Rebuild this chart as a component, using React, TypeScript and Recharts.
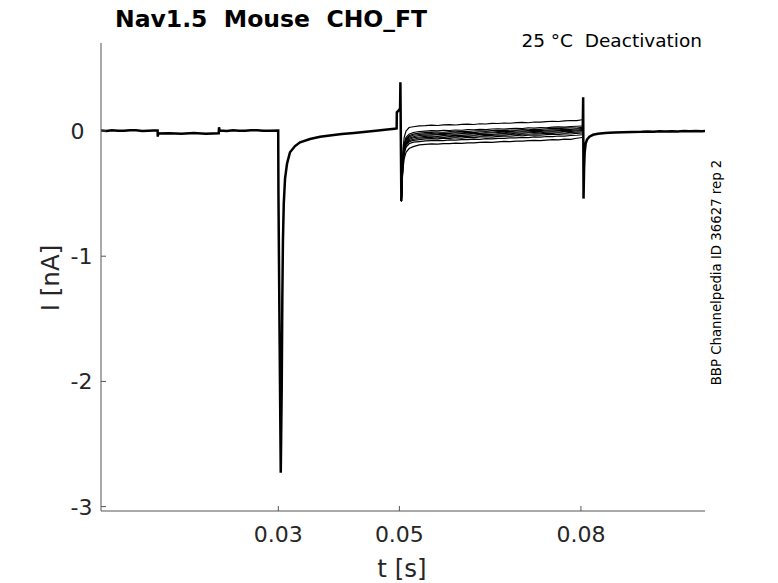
import { Line, LineChart, XAxis, YAxis } from 'recharts';

// Sweep-aligned recording, time in s, current in nA.
// Lead: shared part of all sweeps up to the 0.05 s spike.
const LEAD_T = [
  0.0007, 0.0016, 0.0025, 0.0035, 0.0045, 0.0055, 0.0065, 0.0075, 0.0085, 0.0094, 0.01005,
  0.01008, 0.01015, 0.012, 0.014, 0.016, 0.018, 0.02015, 0.0202, 0.0203, 0.0215, 0.0225,
  0.0235, 0.0245, 0.0255, 0.0265, 0.0275, 0.0285, 0.02998, 0.03002, 0.0302, 0.0304, 0.03056,
  0.03066, 0.03076, 0.0309, 0.03111, 0.03144, 0.03193, 0.03276, 0.03359, 0.03524, 0.0369,
  0.0385, 0.0405, 0.0425, 0.0445, 0.0465, 0.048, 0.0492, 0.04955, 0.04958, 0.0499, 0.05012,
  0.05017, 0.05025, 0.05033,
];
const LEAD_I = [
  0.004, 0.001, 0.007, 0.003, 0.002, 0.006, 0.006, 0.001, 0.003, 0.005, 0.005, -0.045, -0.02,
  -0.017, -0.022, -0.016, -0.021, -0.018, 0.03, 0.004, 0.001, 0.006, 0.003, 0.002, 0.006,
  0.006, 0.002, 0.003, 0.004, -0.5, -1.6, -2.73, -2.05, -1.35, -0.88, -0.58, -0.38, -0.26,
  -0.17, -0.12, -0.09, -0.064, -0.046, -0.036, -0.024, -0.016, -0.006, 0.004, 0.012, 0.018,
  0.02, 0.15, 0.165, 0.18, 0.39, -0.1, -0.56,
];

// Deactivation step: each sweep at its own level
const SWEEP_T = [
  0.05033, 0.05045, 0.0506, 0.0508, 0.0511, 0.0516, 0.0523, 0.0533, 0.0543, 0.0553, 0.0563,
  0.0573, 0.0583, 0.0593, 0.0603, 0.0613, 0.0623, 0.0633, 0.0643, 0.0653, 0.0663, 0.0673,
  0.0683, 0.0693, 0.0703, 0.0713, 0.0723, 0.0733, 0.0743, 0.0753, 0.0763, 0.0773, 0.0783,
  0.0793, 0.0802,
];
const SWEEP_1 = [
  -0.56, -0.3, -0.14, -0.05, 0.0, 0.028, 0.034, 0.041, 0.043, 0.047, 0.044, 0.049, 0.051,
  0.048, 0.053, 0.055, 0.052, 0.058, 0.056, 0.061, 0.06, 0.064, 0.062, 0.067, 0.069, 0.066,
  0.072, 0.071, 0.075, 0.078, 0.076, 0.081, 0.084, 0.083, 0.09,
];
const SWEEP_2 = [
  -0.56, -0.34, -0.19, -0.1, -0.05, -0.025, -0.012, -0.004, -0.001, 0.003, 0.001, 0.006,
  0.004, 0.008, 0.006, 0.011, 0.01, 0.013, 0.011, 0.016, 0.018, 0.015, 0.02, 0.022, 0.02,
  0.025, 0.024, 0.028, 0.026, 0.031, 0.033, 0.031, 0.036, 0.038, 0.04,
];
const SWEEP_3 = [
  -0.56, -0.36, -0.21, -0.12, -0.065, -0.038, -0.025, -0.017, -0.013, -0.011, -0.008, -0.01,
  -0.005, -0.007, -0.002, -0.004, 0.0, 0.002, -0.001, 0.004, 0.006, 0.003, 0.008, 0.007,
  0.012, 0.01, 0.015, 0.013, 0.018, 0.021, 0.019, 0.023, 0.025, 0.024, 0.03,
];
const SWEEP_4 = [
  -0.56, -0.37, -0.22, -0.13, -0.075, -0.048, -0.034, -0.028, -0.023, -0.02, -0.022, -0.017,
  -0.019, -0.014, -0.015, -0.011, -0.013, -0.008, -0.006, -0.009, -0.004, -0.002, -0.005,
  0.001, 0.0, 0.004, 0.006, 0.003, 0.008, 0.01, 0.009, 0.014, 0.012, 0.017, 0.02,
];
const SWEEP_5 = [
  -0.56, -0.38, -0.23, -0.14, -0.085, -0.058, -0.046, -0.036, -0.033, -0.031, -0.028, -0.029,
  -0.024, -0.026, -0.021, -0.022, -0.019, -0.02, -0.015, -0.016, -0.012, -0.014, -0.009,
  -0.01, -0.006, -0.007, -0.002, -0.004, 0.001, 0.0, 0.003, 0.005, 0.004, 0.008, 0.012,
];
const SWEEP_6 = [
  -0.56, -0.39, -0.24, -0.15, -0.095, -0.068, -0.054, -0.048, -0.043, -0.04, -0.042, -0.037,
  -0.038, -0.034, -0.035, -0.031, -0.032, -0.027, -0.025, -0.028, -0.023, -0.02, -0.022,
  -0.017, -0.018, -0.014, -0.012, -0.014, -0.009, -0.007, -0.008, -0.003, -0.004, 0.001,
  0.004,
];
const SWEEP_7 = [
  -0.56, -0.4, -0.25, -0.16, -0.105, -0.078, -0.066, -0.056, -0.053, -0.051, -0.048, -0.05,
  -0.045, -0.046, -0.042, -0.043, -0.039, -0.04, -0.035, -0.036, -0.032, -0.033, -0.028,
  -0.03, -0.025, -0.026, -0.022, -0.023, -0.018, -0.019, -0.014, -0.016, -0.011, -0.009,
  -0.006,
];
const SWEEP_8 = [
  -0.56, -0.41, -0.26, -0.17, -0.115, -0.088, -0.074, -0.068, -0.063, -0.06, -0.062, -0.057,
  -0.058, -0.054, -0.056, -0.051, -0.052, -0.047, -0.046, -0.048, -0.043, -0.041, -0.042,
  -0.037, -0.038, -0.034, -0.032, -0.034, -0.029, -0.027, -0.028, -0.023, -0.024, -0.019,
  -0.016,
];
const SWEEP_9 = [
  -0.56, -0.41, -0.27, -0.18, -0.13, -0.102, -0.089, -0.084, -0.079, -0.077, -0.074, -0.076,
  -0.071, -0.072, -0.068, -0.069, -0.065, -0.066, -0.061, -0.062, -0.058, -0.059, -0.054,
  -0.055, -0.051, -0.052, -0.047, -0.048, -0.044, -0.045, -0.04, -0.041, -0.036, -0.034,
  -0.03,
];
const SWEEP_10 = [
  -0.56, -0.42, -0.3, -0.22, -0.17, -0.14, -0.125, -0.111, -0.106, -0.103, -0.104, -0.1,
  -0.101, -0.097, -0.098, -0.094, -0.095, -0.09, -0.088, -0.091, -0.086, -0.083, -0.085,
  -0.08, -0.081, -0.077, -0.075, -0.077, -0.072, -0.069, -0.07, -0.065, -0.066, -0.058,
  -0.052,
];
const SWEEPS = [
  SWEEP_1, SWEEP_2, SWEEP_3, SWEEP_4, SWEEP_5, SWEEP_6, SWEEP_7, SWEEP_8, SWEEP_9, SWEEP_10,
];

// Tail: spike at 0.08 s and return to baseline, shared by all sweeps
const TAIL_T = [
  0.0803, 0.08037, 0.08043, 0.08052, 0.08062, 0.08078, 0.081, 0.0814, 0.082, 0.0828, 0.084,
  0.0855, 0.087, 0.0885, 0.09, 0.091, 0.092, 0.093, 0.094, 0.095, 0.096, 0.097, 0.098, 0.099,
  0.1, 0.1005,
];
const TAIL_I = [
  0.01, 0.27, -0.54, -0.3, -0.17, -0.1, -0.068, -0.045, -0.03, -0.022, -0.016, -0.012, -0.01,
  -0.007, -0.006, -0.003, -0.005, -0.002, -0.004, -0.001, -0.003, 0.0, -0.002, 0.001, -0.001,
  0.0,
];

const X_TICKS = [0.03, 0.05, 0.08];
const Y_TICKS = [-3, -2, -1, 0];

const FONT = 'DejaVu Sans';
const AXIS = '#555555';
const INK = '#262626';

const toPoints = (ts: number[], vs: number[]) => ts.map((t, k) => ({ t, i: vs[k] }));

function XTick({ x, y, payload }: any) {
  return (
    <g>
      <line x1={x} x2={x} y1={y} y2={y - 5} stroke={AXIS} />
      <text x={x} y={y + 31} textAnchor="middle" fontSize={22} fontFamily={FONT} fill={INK}>
        {String(payload.value)}
      </text>
    </g>
  );
}

function YTick({ x, y, payload }: any) {
  return (
    <g>
      <line x1={x} x2={x + 5} y1={y} y2={y} stroke={AXIS} />
      <text x={x - 30.5} y={y} dy="0.36em" textAnchor="start" fontSize={22} fontFamily={FONT} fill={INK}>
        {String(payload.value)}
      </text>
    </g>
  );
}

export default function App() {
  const lead = toPoints(LEAD_T, LEAD_I);
  const tail = toPoints(TAIL_T, TAIL_I);
  const sweeps = SWEEPS.map((s) => toPoints(SWEEP_T, s));

  return (
    <div style={{ position: 'absolute', left: 0, top: 0, width: 778, height: 583, background: '#fff' }}>
      <LineChart width={778} height={583} margin={{ top: 43, right: 73, bottom: 42, left: 61 }}>
        <XAxis
          type="number"
          dataKey="t"
          domain={[0.0007, 0.1005]}
          allowDataOverflow
          ticks={X_TICKS}
          height={30}
          tickSize={0}
          tickMargin={0}
          tickLine={false}
          axisLine={{ stroke: AXIS }}
          tick={<XTick />}
        />
        <YAxis
          type="number"
          domain={[-3.035, 0.703]}
          allowDataOverflow
          ticks={Y_TICKS}
          width={40}
          tickSize={0}
          tickMargin={0}
          tickLine={false}
          axisLine={{ stroke: AXIS }}
          tick={<YTick />}
        />
        {sweeps.map((d, k) => (
          <Line
            key={`sweep-${k}`}
            data={d}
            dataKey="i"
            type="linear"
            dot={false}
            stroke="#000"
            strokeWidth={1.2}
            isAnimationActive={false}
          />
        ))}
        <Line data={lead} dataKey="i" type="linear" dot={false} stroke="#000" strokeWidth={2.5} isAnimationActive={false} />
        <Line data={tail} dataKey="i" type="linear" dot={false} stroke="#000" strokeWidth={2.5} isAnimationActive={false} />
      </LineChart>
      <svg
        width={778}
        height={583}
        style={{ position: 'absolute', left: 0, top: 0, pointerEvents: 'none' }}
      >
        <text x={115} y={27} fontSize={23.5} fontWeight="bold" fontFamily={FONT} fill="#000" style={{ whiteSpace: 'pre' }}>
          {'Nav1.5  Mouse  CHO_FT'}
        </text>
        <text x={702} y={47} textAnchor="end" fontSize={18.5} fontFamily={FONT} fill="#000" style={{ whiteSpace: 'pre' }}>
          {'25 °C  Deactivation'}
        </text>
        <text
          transform="translate(721,272.5) rotate(-90)"
          textAnchor="middle"
          fontSize={13.3}
          fontFamily={FONT}
          fill="#000"
        >
          BBP Channelpedia ID 36627 rep 2
        </text>
        <text transform="translate(58.5,278) rotate(-90)" textAnchor="middle" fontSize={24.5} fontFamily={FONT} fill={INK}>
          I [nA]
        </text>
        <text x={402} y={576.5} textAnchor="middle" fontSize={24.5} fontFamily={FONT} fill={INK}>
          t [s]
        </text>
      </svg>
    </div>
  );
}
